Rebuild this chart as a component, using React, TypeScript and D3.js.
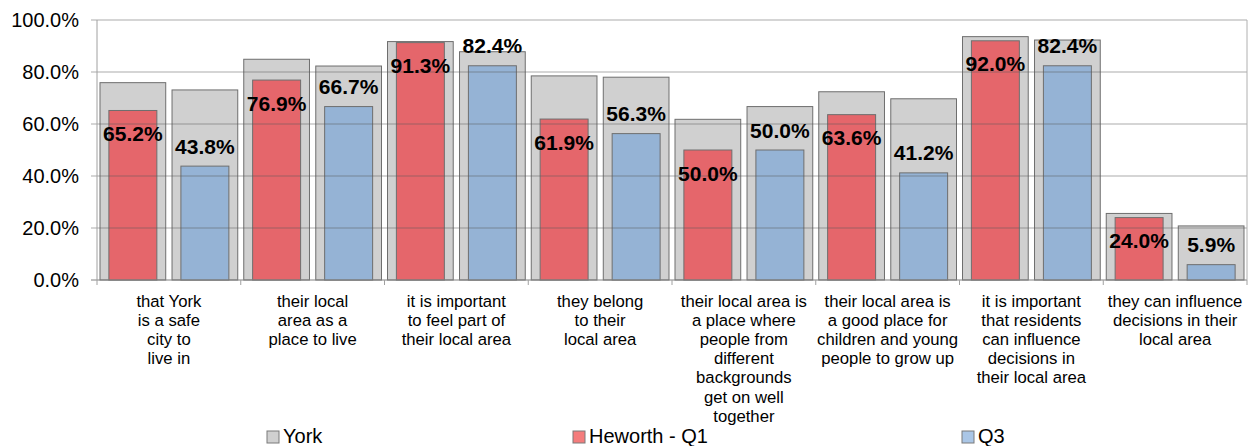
import React from "react";
import * as d3 from "d3";

const categories: string[][] = [
  ["that York", "is a safe", "city to", "live in"],
  ["their local", "area as a", "place to live"],
  ["it is important", "to feel part of", "their local area"],
  ["they belong", "to their", "local area"],
  ["their local area is", "a place where", "people from", "different", "backgrounds", "get on well", "together"],
  ["their local area is", "a good place for", "children and young", "people to grow up"],
  ["it is important", "that residents", "can influence", "decisions in", "their local area"],
  ["they can influence", "decisions in their", "local area"],
];
const yorkVsQ1 = [75.9, 84.9, 91.7, 78.5, 61.8, 72.4, 93.6, 25.6];
const yorkVsQ3 = [73.1, 82.3, 87.8, 78.0, 66.7, 69.7, 92.3, 20.8];
const heworthQ1 = [65.2, 76.9, 91.3, 61.9, 50.0, 63.6, 92.0, 24.0];
const q3 = [43.8, 66.7, 82.4, 56.3, 50.0, 41.2, 82.4, 5.9];
const yTicks = [0, 20, 40, 60, 80, 100];
const legendItems = ["York", "Heworth - Q1", "Q3"];

const W = 1251;
const H = 446;
const left = 97;
const right = 1247;
const top = 20;
const bottom = 280;

const COL_YORK = "#d0d0d0";
const COL_RED = "#e5666b";
const COL_BLUE = "#95b3d5";
const STROKE = "#6e6e6e";
const FONT = "Liberation Sans, Arial, sans-serif";

export default function App() {
  const x = d3
    .scaleBand<number>()
    .domain(d3.range(categories.length))
    .range([left, right])
    .padding(0);
  const sub = d3
    .scaleBand<number>()
    .domain([0, 1])
    .range([0, x.bandwidth()])
    .paddingInner(0.0875)
    .paddingOuter(0.0417);
  const y = d3.scaleLinear().domain([0, 100]).range([bottom, top]);
  const innerW = sub.bandwidth() * 0.73;
  const fmt = (v: number) => v.toFixed(1) + "%";

  const groups = [
    { york: yorkVsQ1, vals: heworthQ1, color: COL_RED, labelOff: 23 },
    { york: yorkVsQ3, vals: q3, color: COL_BLUE, labelOff: -20 },
  ];

  const legendX = [267, 573, 962];

  return (
    <svg
      width={W}
      height={H}
      style={{ position: "absolute", left: 0, top: 0, background: "#fff" }}
      fontFamily={FONT}
    >
      {/* bars */}
      {categories.map((_, i) => (
        <g key={i}>
          {groups.map((g, j) => {
            const bx = (x(i) as number) + (sub(j) as number);
            const bw = sub.bandwidth();
            const cx = bx + bw / 2;
            return (
              <g key={j}>
                <rect
                  x={bx}
                  y={y(g.york[i])}
                  width={bw}
                  height={bottom - y(g.york[i])}
                  fill={COL_YORK}
                  stroke={STROKE}
                  strokeWidth={1}
                />
                <rect
                  x={cx - innerW / 2}
                  y={y(g.vals[i])}
                  width={innerW}
                  height={bottom - y(g.vals[i])}
                  fill={g.color}
                  stroke={STROKE}
                  strokeWidth={1}
                />
              </g>
            );
          })}
        </g>
      ))}
      {/* gridlines */}
      {yTicks.map((t) => (
        <line
          key={t}
          x1={left - 6}
          x2={right}
          y1={y(t)}
          y2={y(t)}
          stroke={t === 0 ? "#808080" : "rgba(90,90,90,0.5)"}
          strokeWidth={1}
        />
      ))}
      <line x1={left} x2={left} y1={top} y2={bottom} stroke="#a0a0a0" />
      <line x1={right} x2={right} y1={top} y2={bottom} stroke="#b0b0b0" />
      {/* x ticks */}
      {d3.range(categories.length + 1).map((i) => {
        const xx = i < categories.length ? (x(i) as number) : right;
        return <line key={i} x1={xx} x2={xx} y1={bottom} y2={bottom + 5} stroke="#a0a0a0" />;
      })}
      {/* data labels */}
      {categories.map((_, i) =>
        groups.map((g, j) => {
          const cx = (x(i) as number) + (sub(j) as number) + sub.bandwidth() / 2;
          const cy = y(g.vals[i]) + g.labelOff;
          return (
            <text
              key={`${i}-${j}`}
              x={cx}
              y={cy + 7.5}
              textAnchor="middle"
              fontSize={21}
              fontWeight="bold"
              fill="#000"
            >
              {fmt(g.vals[i])}
            </text>
          );
        })
      )}
      {/* y axis labels */}
      {yTicks.map((t) => (
        <text key={t} x={79} y={y(t) + 7} textAnchor="end" fontSize={20} fill="#000">
          {t.toFixed(1) + "%"}
        </text>
      ))}
      {/* category labels */}
      {categories.map((lines, i) => (
        <text
          key={i}
          x={(x(i) as number) + x.bandwidth() / 2}
          y={306.5}
          textAnchor="middle"
          fontSize={16.7}
          fill="#000"
        >
          {lines.map((l, k) => (
            <tspan key={k} x={(x(i) as number) + x.bandwidth() / 2} y={306.5 + k * 19.2}>
              {l}
            </tspan>
          ))}
        </text>
      ))}
      {/* legend */}
      {legendItems.map((name, k) => (
        <g key={name}>
          <rect
            x={legendX[k]}
            y={431}
            width={12}
            height={12}
            fill={[COL_YORK, "#f47c7c", "#aac6e6"][k]}
            stroke="#7a7a7a"
          />
          <text x={legendX[k] + 16} y={443} fontSize={20} fill="#000">
            {name}
          </text>
        </g>
      ))}
    </svg>
  );
}
